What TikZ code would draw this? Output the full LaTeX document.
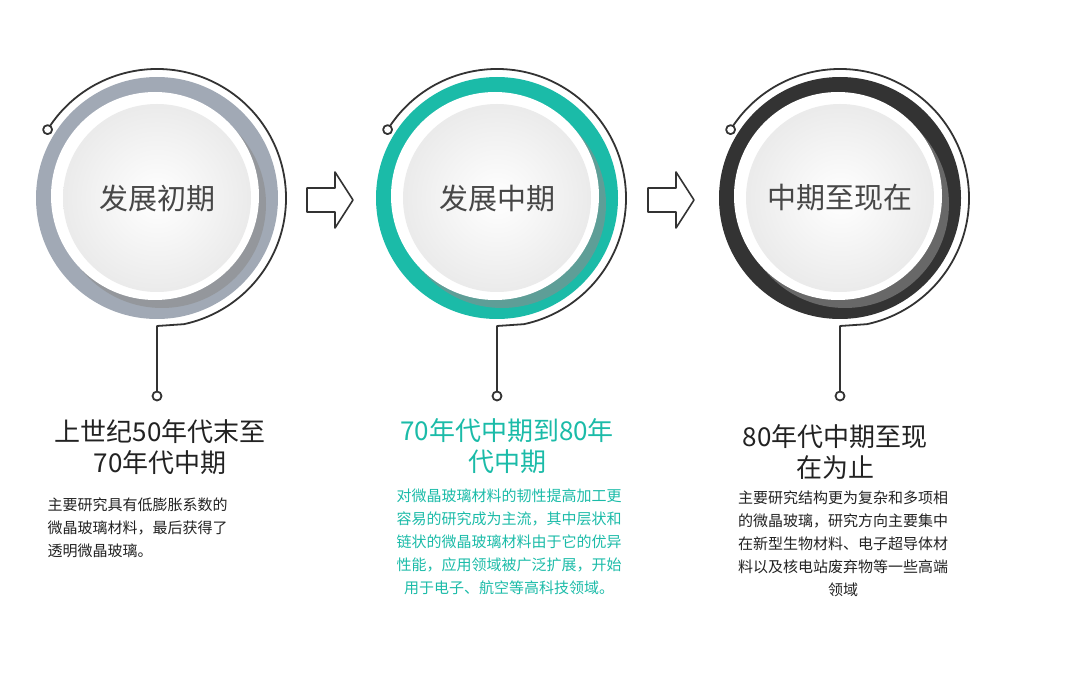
\documentclass[tikz,border=0pt]{standalone}
\usepackage{fontspec}
\setmainfont{Noto Sans CJK SC}
\usepackage{tikz}
\usetikzlibrary{positioning,calc}
\definecolor{ringgray}{HTML}{A1A9B5}
\definecolor{ringteal}{HTML}{1BBBA8}
\definecolor{ringdark}{HTML}{333333}
\definecolor{textdark}{HTML}{222222}

\begin{document}
\begin{tikzpicture}[x=1pt,y=-1pt,line join=round,
  wire/.style={draw=ringdark,line width=1.8pt},
  pin/.style={circle,draw=ringdark,line width=1.8pt,fill=white,inner sep=0pt,minimum size=9pt},
  title node/.style={font=\fontsize{29}{32}\selectfont,text=ringdark!90},
  head node/.style={font=\fontsize{26}{31}\selectfont,align=center,text=textdark},
  body node/.style={font=\fontsize{15}{23}\selectfont,text=textdark},
  hollow arrow/.style={draw=ringdark,line width=1.6pt,fill=white}]
  \useasboundingbox (0,0) rectangle (1080,687);
  \foreach \cx/\col in {157/ringgray,497/ringteal,840/ringdark}{
    \fill[\col] (\cx,198) circle (121);
    \fill[black!45,opacity=0.6] (\cx+5,204) circle (104);
    \fill[white] (\cx-2,196) circle (104);
    \shade[inner color=white,outer color=black!8] (\cx,198) circle (94);
    \draw[wire] (\cx,198) ++(-148:129) arc (-148:78:129) -- (\cx,326) -- (\cx,392);
    \node[pin] at ($(\cx,198)+(-148:129)$) {};
    \node[pin] at (\cx,396) {};
  }
  \node[title node] (t1) at (157,198) {发展初期};
  \node[title node] (t2) at (497,198) {发展中期};
  \node[title node] (t3) at (840,198) {中期至现在};
  % hollow arrows
  \foreach \ax in {307,648}{
    \draw[hollow arrow] (\ax,188) -- (\ax+28,188) -- (\ax+28,172) -- (\ax+46,200)
      -- (\ax+28,228) -- (\ax+28,212) -- (\ax,212) -- cycle;
  }
  % headings
  \node[head node] (h1) at (160,447) {上世纪50年代末至\\70年代中期};
  \node[head node,text=ringteal] (h2) at (507,446) {70年代中期到80年\\代中期};
  \node[head node] (h3) at (835,452) {80年代中期至现\\在为止};
  % bodies
  \node[body node,align=left,anchor=north west] (b1) at (44,494)
    {主要研究具有低膨胀系数的\\微晶玻璃材料，最后获得了\\透明微晶玻璃。};
  \node[body node,align=center,anchor=north,text=ringteal] (b2) at (509,485)
    {对微晶玻璃材料的韧性提高加工更\\容易的研究成为主流，其中层状和\\链状的微晶玻璃材料由于它的优异\\性能，应用领域被广泛扩展，开始\\用于电子、航空等高科技领域。};
  \node[body node,align=center,anchor=north] (b3) at (843,487)
    {主要研究结构更为复杂和多项相\\的微晶玻璃，研究方向主要集中\\在新型生物材料、电子超导体材\\料以及核电站废弃物等一些高端\\领域};
\end{tikzpicture}
\end{document}
